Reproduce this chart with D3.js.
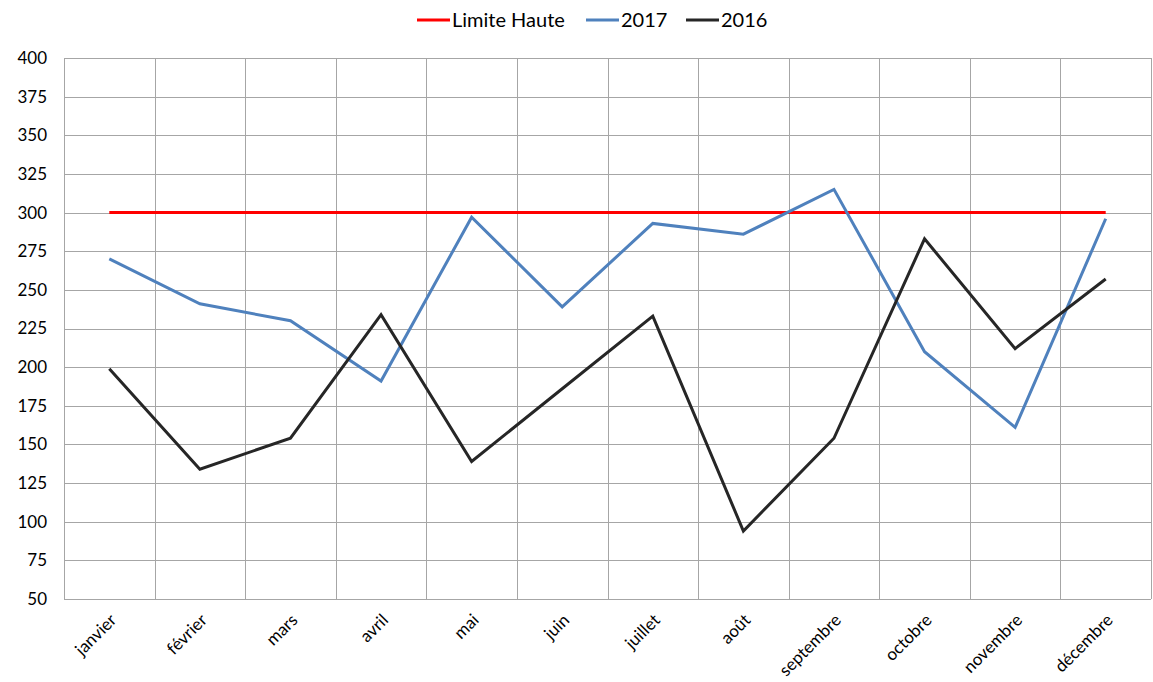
<!DOCTYPE html>
<html><head><meta charset="utf-8">
<script src="https://cdn.jsdelivr.net/npm/d3@7"></script>
<style>body{margin:0;background:#fff;} text{font-family:Lato,"Open Sans",sans-serif;}</style>
</head><body>
<svg id="c" width="1153" height="682"></svg>
<script>
const months = ["janvier","février","mars","avril","mai","juin","juillet","août","septembre","octobre","novembre","décembre"];
const limite = [300,300,300,300,300,300,300,300,300,300,300,300];
const v2017 = [270,241,230,191,297,239,293,286,315,210,161,296];
const v2016 = [199,134,154,234,139,186,233,94,154,283,212,257];
const yTicks = [50,75,100,125,150,175,200,225,250,275,300,325,350,375,400];
const seriesNames = ["Limite Haute","2017","2016"];
const colors = ["#ff0000","#4f81bd","#262626"];

const svg = d3.select("#c");
const L=64, R=1151, T=58, B=599;
const x = d3.scaleBand().domain(months).range([L,R]).padding(0);
const y = d3.scaleLinear().domain([50,400]).range([B,T]);

svg.append("g").selectAll("line").data(yTicks).join("line")
  .attr("x1",L).attr("x2",R).attr("y1",d=>Math.round(y(d))+0.5).attr("y2",d=>Math.round(y(d))+0.5)
  .attr("stroke","#a6a6a6").attr("stroke-width",1);
const bounds = months.map(m=>x(m)).concat([R]);
svg.append("g").selectAll("line").data(bounds).join("line")
  .attr("x1",d=>Math.round(d)+0.5).attr("x2",d=>Math.round(d)+0.5).attr("y1",T).attr("y2",B)
  .attr("stroke","#a6a6a6").attr("stroke-width",1);

svg.append("g").selectAll("text").data(yTicks).join("text")
  .attr("x",47).attr("y",d=>y(d)).attr("dy","0.35em").attr("text-anchor","end")
  .attr("font-size",17).attr("fill","#000").text(d=>d);

svg.append("g").selectAll("text").data(months).join("text")
  .attr("transform",d=>`translate(${x(d)+x.bandwidth()/2+4},${B+18}) rotate(-45)`)
  .attr("text-anchor","end").attr("dy","0.35em")
  .attr("font-size",17).attr("fill","#000").text(d=>d);

const line = d3.line().x((d,i)=>x(months[i])+x.bandwidth()/2).y(d=>y(d));
[limite,v2017,v2016].forEach((s,i)=>{
  svg.append("path").datum(s).attr("d",line).attr("fill","none")
    .attr("stroke",colors[i]).attr("stroke-width",3).attr("stroke-linejoin","miter");
});

const legX = [417,586,686];
seriesNames.forEach((n,i)=>{
  svg.append("line").attr("x1",legX[i]).attr("x2",legX[i]+33).attr("y1",20).attr("y2",20)
    .attr("stroke",colors[i]).attr("stroke-width",3);
  svg.append("text").attr("x",legX[i]+35).attr("y",20).attr("dy","0.35em")
    .attr("font-size",20).attr("fill","#000").text(n);
});
</script>
</body></html>
